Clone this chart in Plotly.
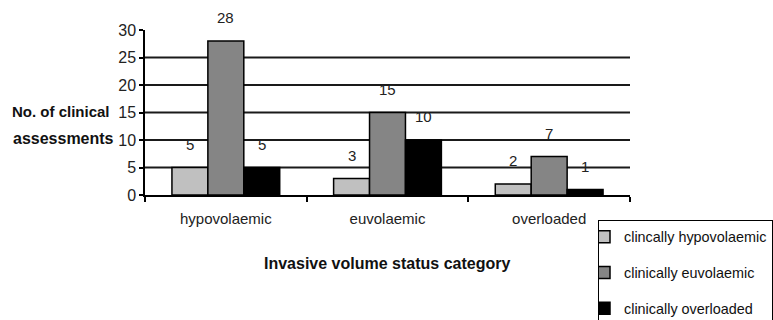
import plotly.graph_objects as go

categories = ["hypovolaemic", "euvolaemic", "overloaded"]
series_names = ["clincally hypovolaemic", "clinically euvolaemic", "clinically overloaded"]
hypo_vals = [5, 3, 2]
euvo_vals = [28, 15, 7]
over_vals = [5, 10, 1]
y_ticks = [0, 5, 10, 15, 20, 25, 30]
grid_vals = [5, 10, 15, 20, 25]

series_vals = [hypo_vals, euvo_vals, over_vals]
colors = ["#c0c0c0", "#858585", "#000000"]

FONT = "Liberation Sans, Arial, sans-serif"
bargap = 1 / 3
n = len(series_vals)
bw = (1 - bargap) / n

fig = go.Figure()
for j, (name, vals, col) in enumerate(zip(series_names, series_vals, colors)):
    fig.add_trace(go.Bar(
        x=categories, y=vals, name=name, legendgroup=name,
        marker=dict(color=col, line=dict(color="#000000", width=1.5)),
    ))

annotations = []
for j, vals in enumerate(series_vals):
    off = (j - (n - 1) / 2) * bw
    for i, v in enumerate(vals):
        annotations.append(dict(
            x=i + off, y=v, xref="x", yref="y", text=str(v), showarrow=False,
            yanchor="bottom", yshift=13, font=dict(family=FONT, size=15, color="#222222"),
        ))

# y-axis title (two horizontal lines)
annotations.append(dict(xref="paper", yref="paper", x=0, y=(195 - 111) / 165, xanchor="right",
                        yanchor="middle", xshift=-33, showarrow=False, text="<b>No. of clinical</b>",
                        font=dict(family=FONT, size=15, color="#111111")))
annotations.append(dict(xref="paper", yref="paper", x=0, y=(195 - 138) / 165, xanchor="right",
                        yanchor="middle", xshift=-29, showarrow=False, text="<b>assessments</b>",
                        font=dict(family=FONT, size=16, color="#111111")))
# x-axis title
annotations.append(dict(xref="paper", yref="paper", x=(387 - 145) / 485, y=(195 - 263) / 165,
                        xanchor="center", yanchor="middle", showarrow=False,
                        text="<b>Invasive volume status category</b>",
                        font=dict(family=FONT, size=16, color="#111111")))

shapes = [dict(type="line", xref="paper", yref="y", x0=0, x1=1, y0=g, y1=g, layer="below",
               line=dict(color="#1a1a1a", width=2)) for g in grid_vals]

fig.update_layout(
    width=773, height=320,
    margin=dict(l=145, r=143, t=30, b=125, autoexpand=False),
    paper_bgcolor="white", plot_bgcolor="white",
    barmode="group", bargap=bargap, bargroupgap=0,
    font=dict(family=FONT, size=15, color="#222222"),
    xaxis=dict(showline=True, linecolor="#000000", linewidth=1.5, ticks="outside",
               tickson="boundaries", ticklen=5, tickwidth=1.5, tickcolor="#000000",
               ticklabelstandoff=9,
               showgrid=False, tickfont=dict(family=FONT, size=15, color="#222222")),
    yaxis=dict(range=[0, 30], tickvals=y_ticks, showline=True, linecolor="#000000",
               linewidth=1.5, ticks="outside", ticklen=4, tickwidth=1.5, tickcolor="#000000",
               showgrid=False, zeroline=False, tickfont=dict(family=FONT, size=16, color="#222222")),
    showlegend=True,
    legend=dict(x=(598 - 145) / 485, y=(195 - 220) / 165, xanchor="left", yanchor="top",
                bordercolor="#000000", borderwidth=1, bgcolor="white",
                traceorder="grouped", tracegroupgap=14, indentation=-15,
                font=dict(family=FONT, size=14.4, color="#111111")),
    annotations=annotations,
    shapes=shapes,
)

fig.write_html("out.html")
